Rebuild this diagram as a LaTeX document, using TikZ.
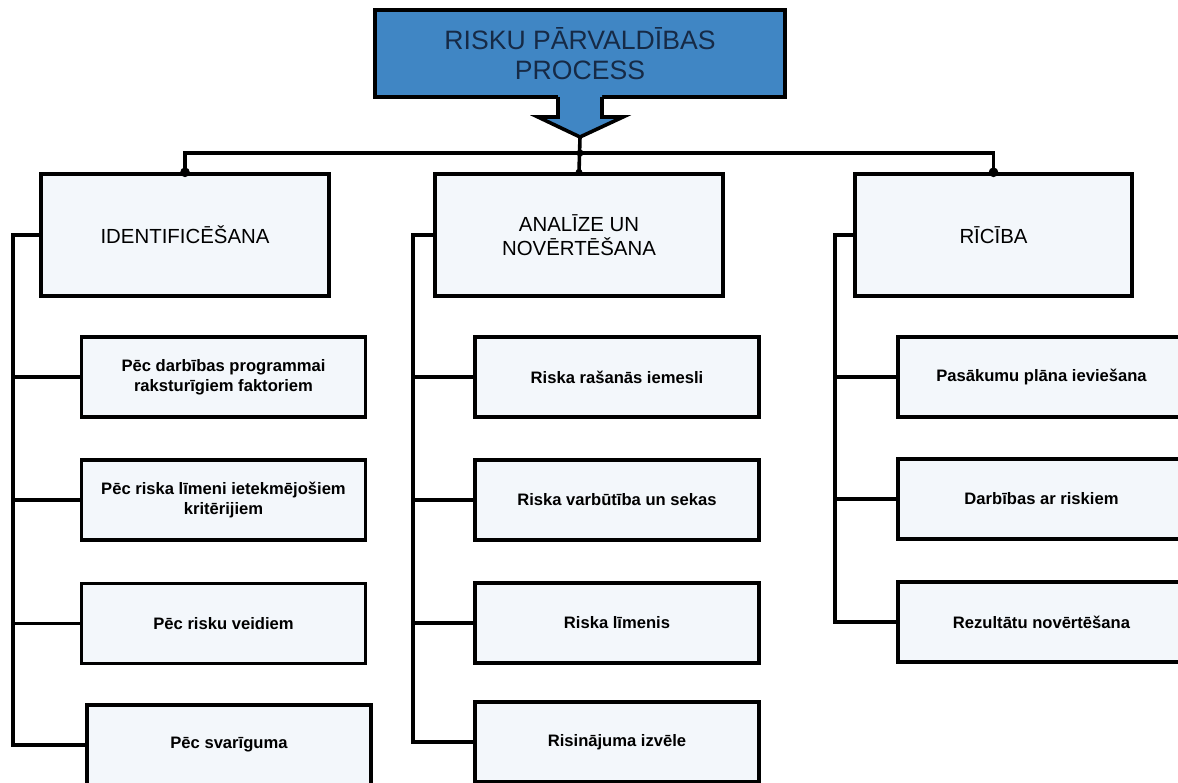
\documentclass[tikz,border=0pt]{standalone}
\usepackage{fontspec}
\setmainfont{Liberation Sans}
\definecolor{titleblue}{RGB}{64,134,196}
\definecolor{titletext}{RGB}{22,42,70}
\definecolor{boxfill}{RGB}{243,247,251}
\tikzset{
  ttlbox/.style={draw=black, fill=titleblue, line width=1.7pt, text=titletext, align=center,
    minimum width=205pt, minimum height=43.5pt, inner sep=0pt,
    font=\fontsize{13.3pt}{15pt}\selectfont},
  headbox/.style={draw=black, fill=boxfill, line width=1.7pt, align=center,
    minimum height=61pt, inner sep=0pt, font=\fontsize{10.2pt}{12pt}\selectfont},
  subbox/.style={draw=black, fill=boxfill, line width=1.7pt, align=center,
    minimum width=142pt, minimum height=40pt, inner sep=0pt,
    font=\bfseries\fontsize{8.3pt}{10pt}\selectfont},
  link/.style={draw=black, line width=1.8pt}
}
\begin{document}
\begin{tikzpicture}[x=0.5pt, y=-0.5pt]
    \useasboundingbox (0,0) rectangle (1178,782);
    \clip (0,0) rectangle (1178,782);
    \fill[white] (0,0) rectangle (1178,782);
    % Title and arrow
    \node[ttlbox] (ttl) at (580,53.5) {RISKU PĀRVALDĪBAS\\PROCESS};
    \coordinate (tip) at (580,137);
    \fill[titleblue] (558,95) -- (558,117) -- (538,117) -- (tip) -- (623,117) -- (602,117) -- (602,95) -- cycle;
    \draw[link] (558,97) -- (558,117) -- (538,117) -- (tip) -- (623,117) -- (602,117) -- (602,97);
    % Main stages
    \node[headbox, minimum width=144pt] (idf) at (185,235) {IDENTIFICĒŠANA};
    \node[headbox, minimum width=144pt] (ana) at (579,235) {ANALĪZE UN\\NOVĒRTĒŠANA};
    \node[headbox, minimum width=138.5pt] (ric) at (993.5,235) {RĪCĪBA};
    \coordinate (jn) at (580,153);
    \draw[link] (idf.north) -- (idf.north |- jn) -- (ric.north |- jn) -- (ric.north);
    \draw[link] (tip) -- (ana.north);
    \filldraw[black] (idf.north) circle (2.2pt);
    \filldraw[black] (ric.north) circle (2.2pt);
    \filldraw[black] (jn) circle (1.5pt);
    \filldraw[black] (ana.north) circle (1.5pt);
    % Identification
    \node[subbox] (idf1) at (223.5,377) {Pēc darbības programmai\\raksturīgiem faktoriem};
    \node[subbox] (idf2) at (223.5,500) {Pēc riska līmeni ietekmējošiem\\kritērijiem};
    \node[subbox] (idf3) at (223.5,623.5) {Pēc risku veidiem};
    \node[subbox] (idf4) at (229,745) {Pēc svarīguma};
    \coordinate (busL) at (13,235);
    \draw[link] (idf.west) -- (busL) |- (idf4.west);
    \draw[link] (busL |- idf1.west) -- (idf1.west);
    \draw[link] (busL |- idf2.west) -- (idf2.west);
    \draw[link] (busL |- idf3.west) -- (idf3.west);
    % Analysis
    \node[subbox] (ana1) at (617,377) {Riska rašanās iemesli};
    \node[subbox] (ana2) at (617,500) {Riska varbūtība un sekas};
    \node[subbox] (ana3) at (617,623) {Riska līmenis};
    \node[subbox] (ana4) at (617,742) {Risinājuma izvēle};
    \coordinate (busM) at (413,235);
    \draw[link] (ana.west) -- (busM) |- (ana4.west);
    \draw[link] (busM |- ana1.west) -- (ana1.west);
    \draw[link] (busM |- ana2.west) -- (ana2.west);
    \draw[link] (busM |- ana3.west) -- (ana3.west);
    % Action
    \node[subbox, minimum width=143.5pt] (ric1) at (1041.5,377) {Pasākumu plāna ieviešana};
    \node[subbox, minimum width=143.5pt] (ric2) at (1041.5,499) {Darbības ar riskiem};
    \node[subbox, minimum width=143.5pt] (ric3) at (1041.5,622) {Rezultātu novērtēšana};
    \coordinate (busR) at (835,235);
    \draw[link] (ric.west) -- (busR) |- (ric3.west);
    \draw[link] (busR |- ric1.west) -- (ric1.west);
    \draw[link] (busR |- ric2.west) -- (ric2.west);
\end{tikzpicture}
\end{document}
